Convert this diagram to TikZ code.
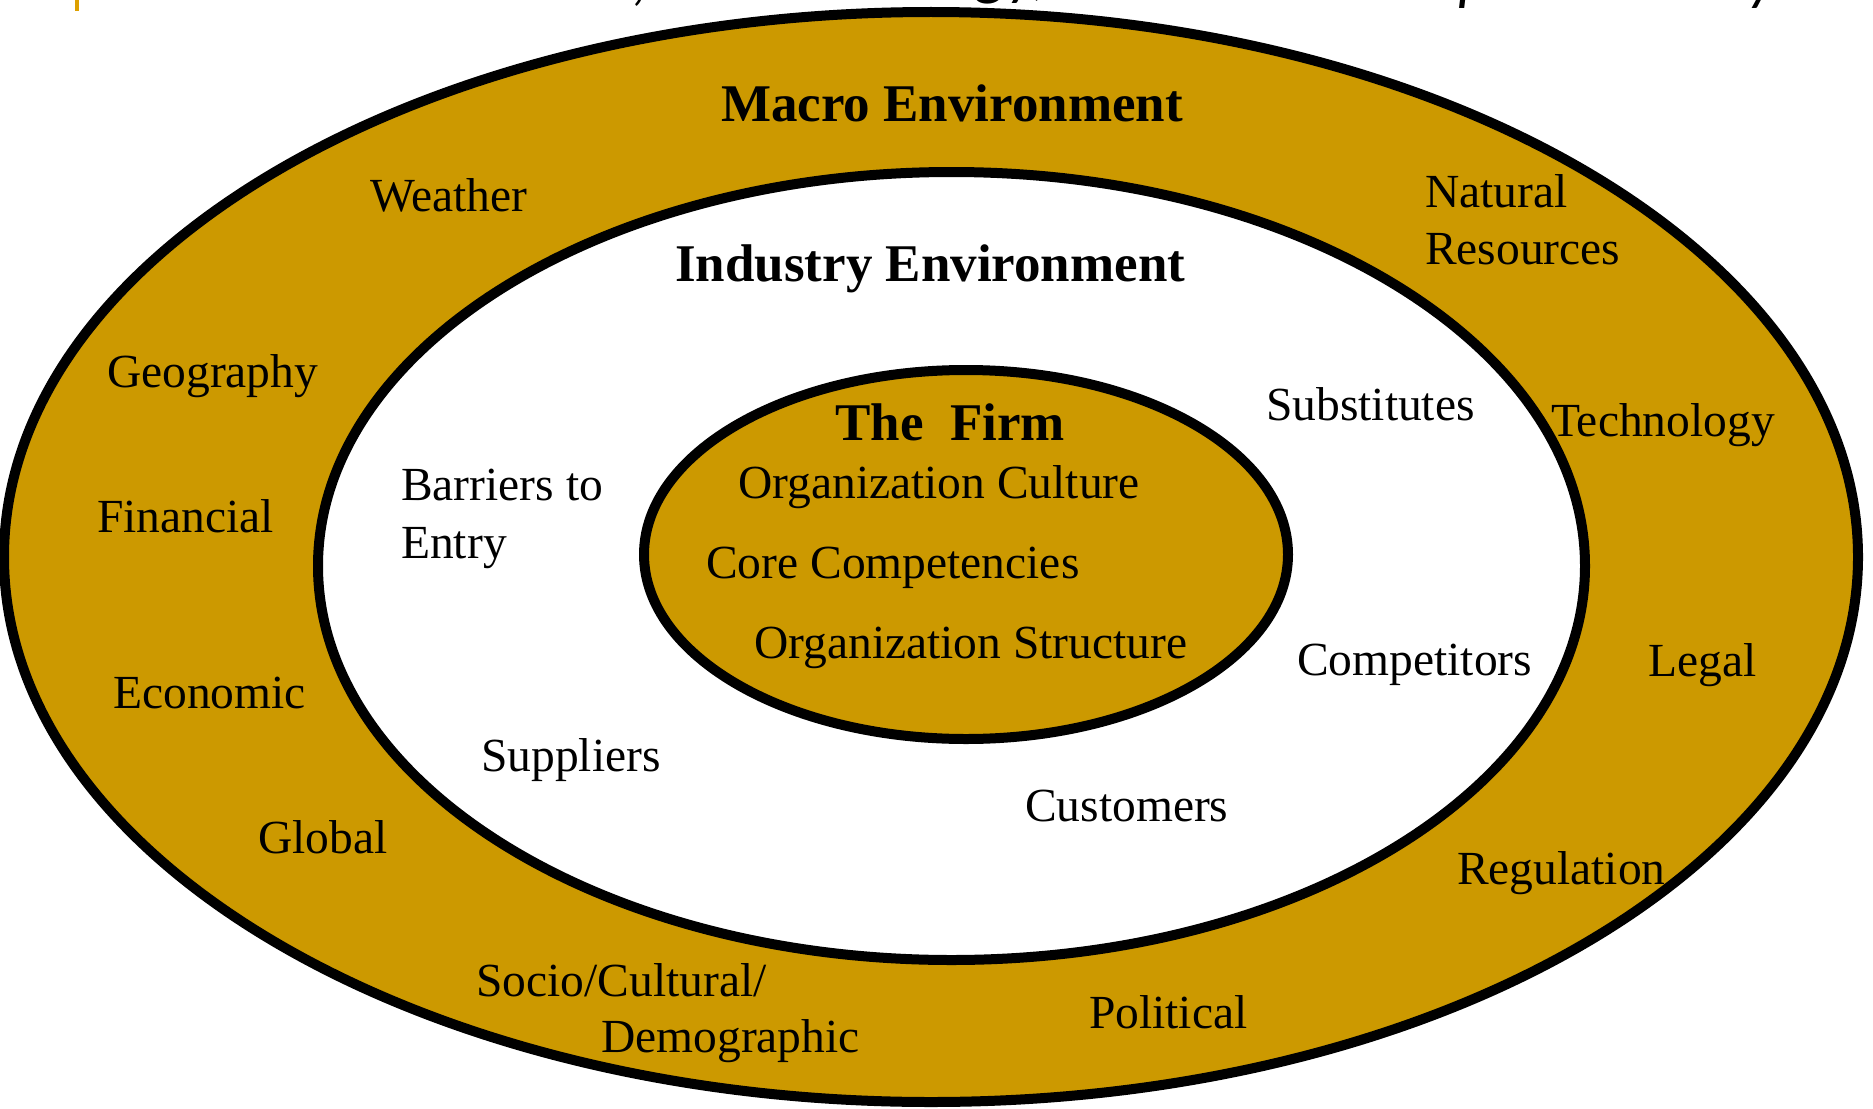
\documentclass[tikz,border=0pt]{standalone}
\usepackage{fontspec}
\setmainfont{Liberation Serif}
\newfontfamily\headlinefont{Carlito}
\definecolor{gold}{RGB}{204,153,0}
\definecolor{accent}{RGB}{221,160,0}

\begin{document}
\begin{tikzpicture}[x=1pt,y=-1pt,
  ring/.style={draw=black, line width=10pt},
  lbl/.style={anchor=base west, inner sep=0pt, font=\fontsize{47.5}{57}\selectfont},
  head/.style={anchor=base west, inner sep=0pt, font=\fontsize{53}{64}\selectfont\bfseries},
  frag/.style={anchor=base west, inner sep=0pt, font=\headlinefont\itshape\fontsize{62}{70}\selectfont}]
\useasboundingbox (0,0) rectangle (1873,1108);
\begin{scope}
  \clip (0,0) rectangle (1873,1108);
  \fill[white] (0,0) rectangle (1873,1108);

  % three nested environments
  \draw[ring, fill=gold]  (931,557)    ellipse [x radius=927pt,   y radius=545pt];
  \draw[ring, fill=white] (951.5,566)  ellipse [x radius=633.5pt, y radius=394pt];
  \draw[ring, fill=gold]  (966,554.5)  ellipse [x radius=322pt,   y radius=184.5pt];

  % headline running above the top edge
  \draw[accent, line width=4pt] (77,0) -- (77,11);
  \node[frag] (h1) at (632,-1) {,};
  \node[frag] (h2) at (976,-6) {gy,};
  \node[frag] (h3) at (1458,-1) {p};
  \node[frag] (h4) at (1748,-1) {y};
\end{scope}

% headings
\node[head] (macro)    at (721,121) {Macro Environment};
\node[head] (industry) at (675,281) {Industry Environment};
\node[head] (firm)     at (835,440) {The\ \ Firm};

% macro environment
\node[lbl] (weather)    at (370,211)  {Weather};
\node[lbl] (natural)    at (1425,207) {Natural};
\node[lbl] (resources)  at (1425,264) {Resources};
\node[lbl] (geography)  at (107,387)  {Geography};
\node[lbl] (technology) at (1551,436) {Technology};
\node[lbl] (financial)  at (97,532)   {Financial};
\node[lbl] (legal)      at (1648,676) {Legal};
\node[lbl] (economic)   at (113,708)  {Economic};
\node[lbl] (global)     at (258,853)  {Global};
\node[lbl] (regulation) at (1457,884) {Regulation};
\node[lbl] (socio)      at (476,996)  {Socio/Cultural/};
\node[lbl] (demo)       at (601,1052) {Demographic};
\node[lbl] (political)  at (1089,1028){Political};

% industry environment
\node[lbl] (substitutes) at (1266,420) {Substitutes};
\node[lbl] (barriers)    at (401,500)  {Barriers to};
\node[lbl] (entry)       at (401,558)  {Entry};
\node[lbl] (competitors) at (1297,675) {Competitors};
\node[lbl] (suppliers)   at (481,771)  {Suppliers};
\node[lbl] (customers)   at (1025,821) {Customers};

% the firm
\node[lbl] (culture)   at (738,498) {Organization Culture};
\node[lbl] (core)      at (706,578) {Core Competencies};
\node[lbl] (structure) at (754,658) {Organization Structure};
\end{tikzpicture}
\end{document}
